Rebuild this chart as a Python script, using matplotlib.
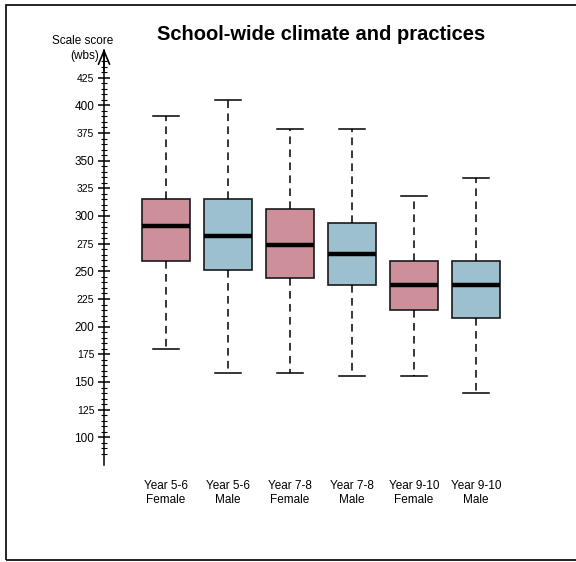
import matplotlib
matplotlib.use('Agg')
import matplotlib.pyplot as plt
from matplotlib.patches import Rectangle
from matplotlib.ticker import FixedLocator

plt.rcParams['font.family'] = ['Liberation Sans', 'DejaVu Sans']

groups = ['Year 5-6\nFemale', 'Year 5-6\nMale', 'Year 7-8\nFemale',
          'Year 7-8\nMale', 'Year 9-10\nFemale', 'Year 9-10\nMale']
whis_low = [180, 158, 158, 155, 155, 140]
q1 = [259, 251, 244, 238, 215, 208]
medians = [291, 282, 274, 266, 238, 238]
q3 = [315, 315, 306, 294, 259, 259]
whis_high = [390, 405, 379, 379, 318, 334]
box_colors = ['#cd8f9a', '#9dc0cf'] * 3

fig = plt.figure(figsize=(5.76, 5.62), dpi=100)
ax = fig.add_axes([104 / 576, 97 / 562, 434 / 576, 415 / 562])

stats = []
for i in range(len(groups)):
    stats.append({'med': medians[i], 'q1': q1[i], 'q3': q3[i],
                  'whislo': whis_low[i], 'whishi': whis_high[i],
                  'fliers': []})

bp = ax.bxp(stats, positions=range(1, len(groups) + 1), widths=0.79,
            patch_artist=True, showfliers=False,
            boxprops=dict(linewidth=1.2, edgecolor='#1a1a1a'),
            medianprops=dict(linewidth=3.2, color='black'),
            whiskerprops=dict(linewidth=1.1, linestyle=(0, (5, 3.5)),
                              color='black'),
            capprops=dict(linewidth=1.1, color='black'))
for cap in bp['caps']:
    x = cap.get_xdata()
    c = (x[0] + x[1]) / 2
    cap.set_xdata([c - 0.21, c + 0.21])
for patch, col in zip(bp['boxes'], box_colors):
    patch.set_facecolor(col)

ax.set_xlim(0, 7)
ax.set_ylim(75, 450)
major = list(range(100, 450, 25))
ax.set_yticks(major)
ax.yaxis.set_minor_locator(FixedLocator(
    [v for v in range(85, 445, 5) if v % 25 != 0]))
ax.tick_params(axis='y', which='major', direction='inout', length=8,
               width=1.1, labelsize=8.5, pad=3)
ax.tick_params(axis='y', which='minor', direction='inout', length=4,
               width=0.8)
for lab in ax.get_yticklabels():
    if int(float(lab.get_text())) % 50 != 0:
        lab.set_fontsize(7.5)

ax.set_xticks(range(1, len(groups) + 1))
ax.set_xticklabels(groups, fontsize=8.5, linespacing=1.2)
ax.tick_params(axis='x', length=0, pad=11)

for s in ['top', 'right', 'bottom']:
    ax.spines[s].set_visible(False)
ax.spines['left'].set_linewidth(1.1)
ax.annotate('', xy=(0, 1.003), xytext=(0, 0.95), xycoords='axes fraction',
            arrowprops=dict(arrowstyle='->,head_length=0.6,head_width=0.25',
                            lw=1.2, color='black', mutation_scale=16,
                            shrinkA=0, shrinkB=0))

fig.text(83 / 576, 1 - 41 / 562, 'Scale score', fontsize=8.5,
         ha='center', va='center')
fig.text(99 / 576, 1 - 56 / 562, '(wbs)', fontsize=8.5,
         ha='right', va='center')
fig.text(321 / 576, 1 - 34 / 562, 'School-wide climate and practices',
         fontsize=14.5, fontweight='bold', ha='center', va='center')

fig.patches.append(Rectangle((6 / 576, 2 / 562), 1.0, 555 / 562,
                             transform=fig.transFigure, fill=False,
                             edgecolor='black', linewidth=1.2))

fig.savefig('out.png', dpi=100)
